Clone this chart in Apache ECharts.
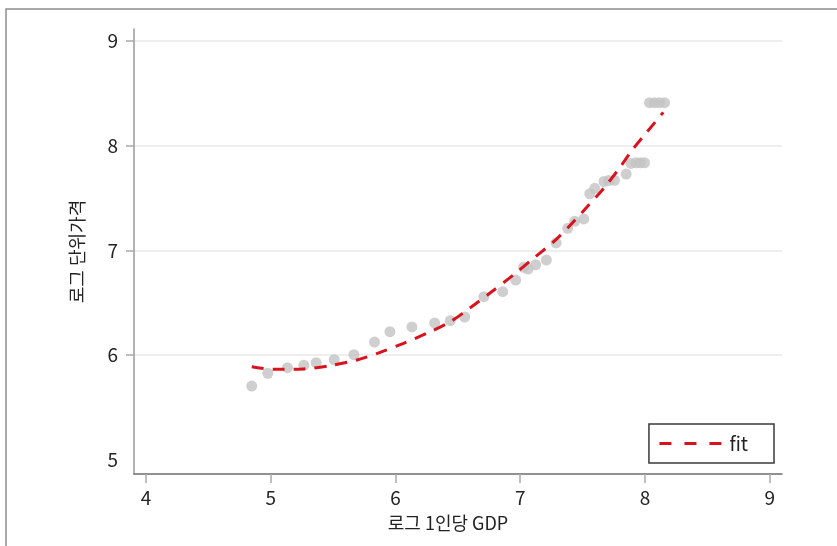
<!DOCTYPE html>
<html>
<head>
<meta charset="utf-8">
<script src="https://cdn.jsdelivr.net/npm/echarts@6/dist/echarts.min.js"></script>
<style>
html,body{margin:0;padding:0;background:#fff;}
#chart{width:837px;height:546px;}
</style>
</head>
<body>
<div id="chart"></div>
<script>
// Scatter: log GDP per capita (x) vs log unit price (y)
const priceX = [4.848, 4.977, 5.134, 5.266, 5.364, 5.509, 5.667, 5.832, 5.956, 6.132,
                6.314, 6.440, 6.555, 6.709, 6.860, 6.964, 7.028, 7.063, 7.124, 7.210,
                7.288, 7.381, 7.437, 7.510, 7.558, 7.598, 7.672, 7.710, 7.756, 7.850,
                7.888, 7.929, 7.965, 7.997, 8.037, 8.077, 8.117, 8.157];
const priceY = [5.706, 5.828, 5.881, 5.904, 5.929, 5.957, 6.005, 6.126, 6.225, 6.270,
                6.308, 6.330, 6.365, 6.559, 6.607, 6.718, 6.840, 6.823, 6.864, 6.909,
                7.072, 7.212, 7.279, 7.301, 7.542, 7.594, 7.659, 7.668, 7.670, 7.730,
                7.831, 7.838, 7.838, 7.838, 8.411, 8.411, 8.411, 8.411];
// Fitted curve
const fitX = [4.848, 5.022, 5.262, 5.477, 5.691, 5.878, 6.065, 6.253, 6.440, 6.597, 6.758,
              6.945, 7.122, 7.269, 7.403, 7.537, 7.670, 7.804, 7.898, 8.018, 8.147];
const fitY = [5.891, 5.866, 5.869, 5.900, 5.955, 6.028, 6.114, 6.210, 6.320, 6.451, 6.594,
              6.766, 6.941, 7.084, 7.243, 7.418, 7.594, 7.800, 7.959, 8.134, 8.319];
const xTicks = [4, 5, 6, 7, 8, 9];
const yLabels = [5, 6, 7, 8, 9];
const yTicks = [6, 7, 8, 9];
const xName = '로그 1인당 GDP';
const yName = '로그 단위가격';
const fitName = 'fit';

const FONT = "'Noto Sans CJK KR', 'Noto Sans', sans-serif";
const chart = echarts.init(document.getElementById('chart'), null, {renderer: 'canvas'});
const option = {
  backgroundColor: '#fff',
  animation: false,
  textStyle: {fontFamily: FONT},
  graphic: [{
    type: 'rect', z: -10, silent: true,
    shape: {x: 6, y: 9, width: 900, height: 600},
    style: {fill: 'none', stroke: '#8c8c8c', lineWidth: 1.5}
  }],
  grid: {left: 134, right: 55, top: 29, bottom: 72, containLabel: false},
  legend: {
    data: [fitName], right: 63, bottom: 83, orient: 'horizontal',
    borderColor: '#3a3a3a', borderWidth: 1.5, borderRadius: 0,
    padding: [9, 26, 9, 9], itemWidth: 62, itemHeight: 14,
    itemStyle: {opacity: 0},
    lineStyle: {type: [12, 13], width: 3, opacity: 1, color: '#d7141e'},
    textStyle: {fontSize: 19, color: '#222', fontFamily: FONT, lineHeight: 21, padding: [0, 0, 0, 3]}
  },
  xAxis: {
    type: 'value', min: 3.904, max: 9.099,
    name: xName, nameLocation: 'middle', nameGap: 40,
    nameTextStyle: {fontSize: 18, color: '#222', fontFamily: FONT, padding: [0, 20, 0, 0]},
    axisLine: {show: true, onZero: false, lineStyle: {color: '#6e6e6e', width: 1.5}},
    axisTick: {show: true, length: 9, customValues: xTicks, lineStyle: {color: '#aaaaaa', width: 1.5}},
    axisLabel: {customValues: xTicks, margin: 14, fontSize: 19, color: '#222', fontFamily: FONT},
    splitLine: {show: false}
  },
  yAxis: {
    type: 'value', min: 4.866, max: 9.115,
    name: yName, nameLocation: 'middle', nameGap: 48,
    nameTextStyle: {fontSize: 18, color: '#222', fontFamily: FONT},
    axisLine: {show: true, onZero: false, lineStyle: {color: '#9a9a9a', width: 1.5}},
    axisTick: {show: true, length: 8, customValues: yTicks, lineStyle: {color: '#aaaaaa', width: 1.5}},
    axisLabel: {customValues: yLabels, margin: 16, fontSize: 19, color: '#222', fontFamily: FONT},
    splitLine: {show: true, lineStyle: {color: '#e8e8e8', width: 1.5}}
  },
  series: [
    {
      type: 'scatter', name: 'data', symbol: 'circle', symbolSize: 11,
      itemStyle: {color: '#c3c3c3'},
      data: priceX.map((x, i) => [x, priceY[i]]),
      z: 2
    },
    {
      type: 'line', name: fitName, symbol: 'none', showSymbol: false, smooth: 0.3,
      lineStyle: {color: '#d7141e', width: 3, type: [12, 9]},
      itemStyle: {color: '#d7141e'},
      data: fitX.map((x, i) => [x, fitY[i]]),
      z: 3
    }
  ]
};
chart.setOption(option);
</script>
</body>
</html>
